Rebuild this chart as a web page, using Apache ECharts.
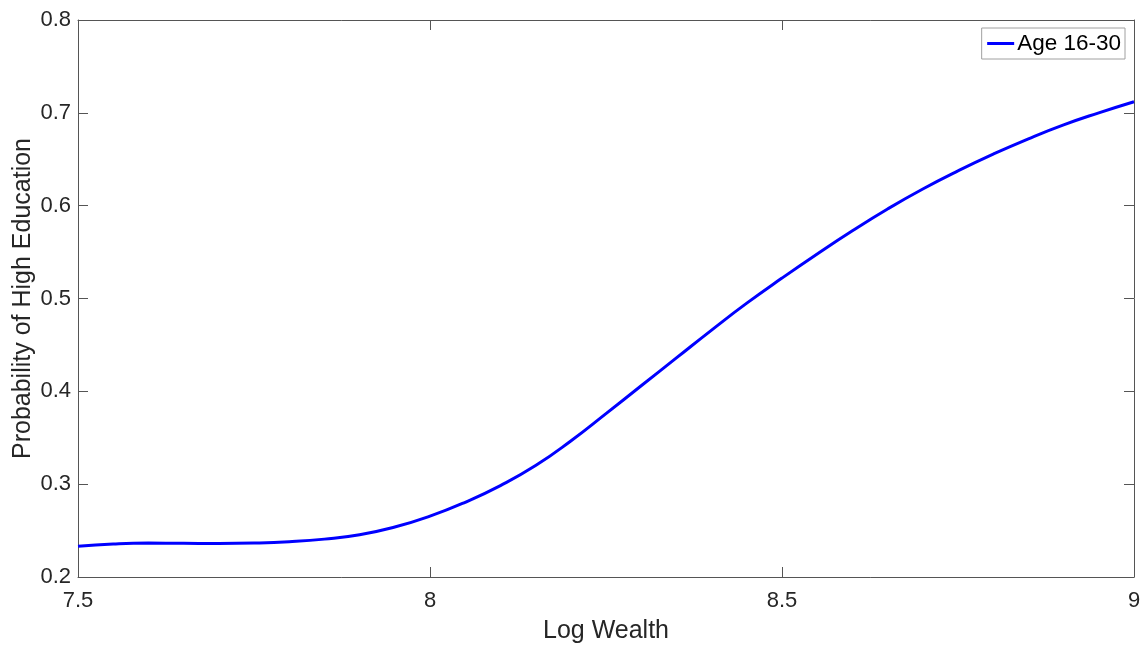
<!DOCTYPE html>
<html>
<head>
<meta charset="utf-8">
<script src="https://cdn.jsdelivr.net/npm/echarts@6/dist/echarts.min.js"></script>
<style>
html,body{margin:0;padding:0;background:#fff;}
#main{width:1145px;height:649px;}
</style>
</head>
<body>
<div id="main"></div>
<script>
// log wealth grid and the estimated probability
var wealth = [7.5, 7.55, 7.6, 7.65, 7.7, 7.75, 7.8, 7.85, 7.9, 7.95, 8.0, 8.05, 8.1, 8.15, 8.2, 8.25,
              8.3, 8.35, 8.4, 8.45, 8.5, 8.55, 8.6, 8.65, 8.7, 8.75, 8.8, 8.85, 8.9, 8.95, 9.0];
var prob = [0.233, 0.2355, 0.2365, 0.2363, 0.236, 0.2365, 0.238, 0.2408, 0.2455, 0.2538, 0.2655, 0.2805,
            0.2985, 0.320, 0.3465, 0.376, 0.406, 0.436, 0.466, 0.495, 0.522, 0.548, 0.573, 0.5965,
            0.618, 0.6375, 0.6555, 0.672, 0.687, 0.7, 0.712];
var seriesName = 'Age 16-30';

var font = 'Liberation Sans, Arial, Helvetica, sans-serif';
var axisCol = '#262626';

var chart = echarts.init(document.getElementById('main'));

var lineData = wealth.map(function(v, i){ return [v, prob[i]]; });

//坐标轴公共样式
function axisBase(showLabel){
    return {
        axisLine: {show: true, onZero: false, lineStyle: {color: '#555', width: 1}},
        axisTick: {show: true, inside: true, length: 10, lineStyle: {color: '#555', width: 1}},
        axisLabel: {show: showLabel, color: axisCol, fontSize: 22, fontFamily: font, showMinLabel: true, showMaxLabel: true},
        splitLine: {show: false}
    };
}

var option = {
    backgroundColor: '#fff',
    animation: false,
    grid: {left: 78, right: 11, top: 20, bottom: 72, containLabel: false, outerBoundsMode: 'none'},
    legend: {
        data: [seriesName],
        right: 20,
        top: 28,
        orient: 'vertical',
        itemWidth: 27,
        itemHeight: 3,
        itemGap: 0,
        padding: [4, 4, 4, 4],
        borderColor: '#a0a0a0',
        borderWidth: 1,
        lineStyle: {width: 3},
        textStyle: {color: '#000', fontSize: 22.5, fontFamily: font, padding: [0, 0, 0, -2]}
    },
    xAxis: [
        Object.assign(axisBase(true), {
            type: 'value', min: 7.5, max: 9, interval: 0.5,
            name: 'Log Wealth', nameLocation: 'middle', nameGap: 42,
            nameTextStyle: {color: axisCol, fontSize: 25, fontFamily: font}
        }),
        Object.assign(axisBase(false), {type: 'value', position: 'top', min: 7.5, max: 9, interval: 0.5})
    ],
    yAxis: [
        Object.assign(axisBase(true), {
            type: 'value', min: 0.2, max: 0.8, interval: 0.1,
            name: 'Probability of High Education', nameLocation: 'middle', nameGap: 42,
            nameMoveOverlap: false,
            nameTextStyle: {color: axisCol, fontSize: 25, fontFamily: font}
        }),
        Object.assign(axisBase(false), {type: 'value', position: 'right', min: 0.2, max: 0.8, interval: 0.1})
    ],
    series: [{
        name: seriesName,
        type: 'line',
        data: lineData,
        smooth: 0.5,
        symbol: 'none',
        lineStyle: {color: '#0000ff', width: 3},
        itemStyle: {color: '#0000ff'}
    }]
};
option.yAxis[0].axisLabel.margin = 7;
option.xAxis[0].axisLabel.margin = 13;
chart.setOption(option);
</script>
</body>
</html>
